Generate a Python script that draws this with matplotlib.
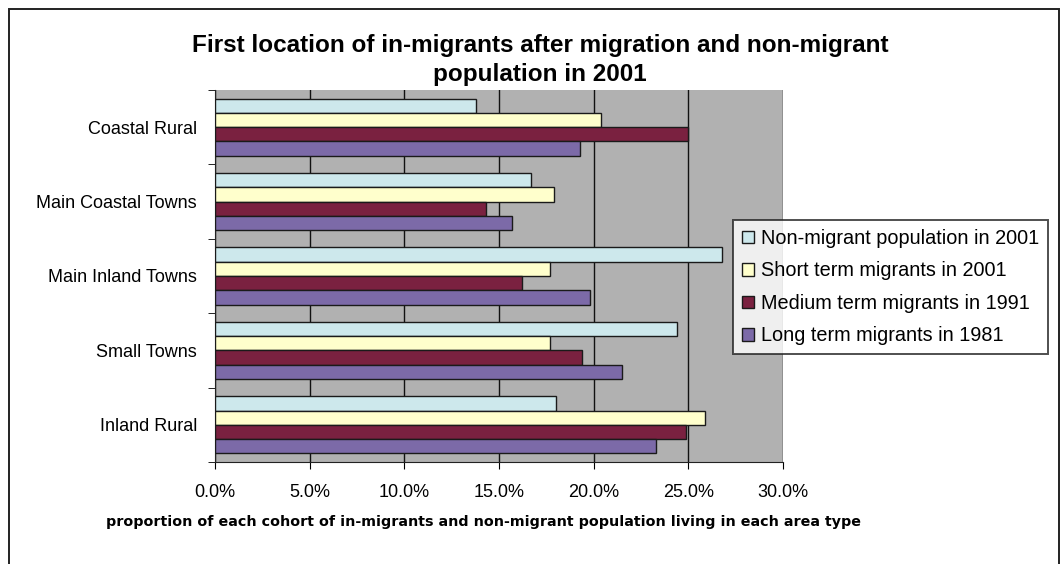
import numpy as np
import matplotlib.pyplot as plt
from matplotlib.patches import Rectangle

# area types and the share of each cohort living there (%)
areas = ['Coastal Rural', 'Main Coastal Towns', 'Main Inland Towns',
         'Small Towns', 'Inland Rural']
series = ['Non-migrant population in 2001', 'Short term migrants in 2001',
          'Medium term migrants in 1991', 'Long term migrants in 1981']
non_migrant = [13.8, 16.7, 26.8, 24.4, 18.0]
short_term = [20.4, 17.9, 17.7, 17.7, 25.9]
medium_term = [25.0, 14.3, 16.2, 19.4, 24.9]
long_term = [19.3, 15.7, 19.8, 21.5, 23.3]
xticks = [0, 5, 10, 15, 20, 25, 30]

colors = ['#cde8ec', '#ffffcc', '#7a2140', '#7c6aa8']
plt.rcParams['font.family'] = ['Liberation Sans', 'DejaVu Sans']

fig = plt.figure(figsize=(10.63, 5.64), dpi=100)
fig.patches.append(Rectangle((9/1063, -0.01), 1050/1063, 1 - 9/564 + 0.01,
                             transform=fig.transFigure, fill=False,
                             edgecolor='#222222', lw=1.4))

ax = fig.add_axes([215/1063, 1 - 462/564, 568/1063, 372/564])
ax.set_facecolor('#b1b1b1')

y = np.arange(len(areas))
h = 0.192
for i, (vals, c, lab) in enumerate(zip([non_migrant, short_term, medium_term, long_term],
                                        colors, series)):
    ax.barh(y - 1.5*h + i*h, vals, height=h, color=c, edgecolor='#1a1a1a',
            lw=1.0, label=lab, zorder=3)

ax.set_xlim(0, 30)
ax.set_ylim(len(areas) - 0.5, -0.5)
ax.set_xticks(xticks)
ax.set_xticklabels([f'{v:.1f}%' for v in xticks], fontsize=13)
ax.set_yticks(y)
ax.set_yticklabels(areas, fontsize=13)
ax.set_yticks(np.arange(-0.5, len(areas)), minor=True)
ax.tick_params(axis='y', which='major', length=0, pad=13)
ax.tick_params(axis='y', which='minor', length=5, direction='out')
ax.tick_params(axis='x', length=5, direction='out', pad=11)
ax.grid(axis='x', color='#111111', lw=1.0, zorder=1)
for s in ['top', 'right']:
    ax.spines[s].set_visible(False)
ax.spines['left'].set_color('#222222')
ax.spines['bottom'].set_color('#222222')

fig.text(484/1063, 1 - 522/564,
         'proportion of each cohort of in-migrants and non-migrant population living in each area type',
         ha='center', va='center', fontsize=10.3, fontweight='bold',
         family=['DejaVu Sans'])

fig.text(0.508, 1 - 60/564, 'First location of in-migrants after migration and non-migrant\npopulation in 2001',
         ha='center', va='center', fontsize=17.5, fontweight='bold',
         linespacing=1.3)

leg = fig.legend(loc='upper left', bbox_to_anchor=(733/1063, 1 - 220/564),
                 fontsize=14.3, frameon=True, fancybox=False, edgecolor='#222222',
                 handlelength=0.6, handleheight=0.6, handletextpad=0.35,
                 labelspacing=0.68, borderpad=0.45, borderaxespad=0)
leg.get_frame().set_linewidth(1.4)

fig.savefig('out.png', dpi=100)
